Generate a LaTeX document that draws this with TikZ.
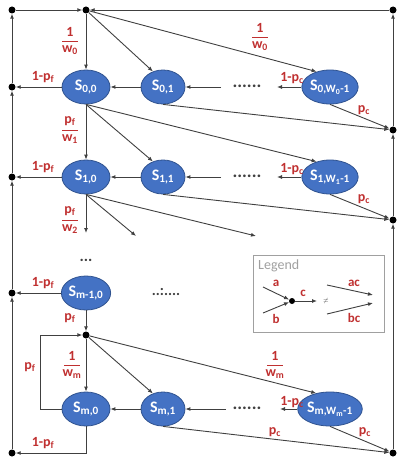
\documentclass[tikz,border=0pt]{standalone}
\usepackage{fontspec}
\setmainfont{Carlito}
\usetikzlibrary{shapes.geometric,arrows.meta}
\definecolor{nodeblue}{RGB}{68,114,196}
\definecolor{nodeedge}{RGB}{47,82,143}
\definecolor{lab}{RGB}{192,48,48}
\definecolor{wire}{RGB}{64,64,64}
\definecolor{leggray}{RGB}{160,160,160}
\newcommand{\fr}[2]{\shortstack{#1\\[1pt]\rule{16pt}{1pt}\\[1pt]#2}}
\begin{document}
\begin{tikzpicture}[x=1pt,y=-1pt,
  state/.style={ellipse,fill=nodeblue,draw=nodeedge,line width=0.8pt,minimum width=48pt,minimum height=34pt,inner sep=0pt,text=white,font=\fontsize{16}{18}\selectfont\bfseries},
  narrow/.style={state,minimum width=44pt},
  junc/.style={circle,fill=black,inner sep=0pt,minimum size=7pt},
  wire/.style={draw=wire,line width=0.9pt},
  arr/.style={wire,-{Latex[length=5pt,width=4pt]}},
  lbl/.style={text=lab,font=\fontsize{14}{16}\selectfont\bfseries,inner sep=0pt},
  dotsx/.style={text=wire,font=\fontsize{18}{18}\selectfont\bfseries,inner sep=0pt},
]
\useasboundingbox (0,0) rectangle (398,460);
% junctions
\node[junc] (tl) at (12,10) {};
\node[junc] (t0) at (86,10) {};
\node[junc] (tr) at (393,10) {};
\node[junc] (l0) at (12,87) {};
\node[junc] (l1) at (12,177) {};
\node[junc] (l2) at (12,293) {};
\node[junc] (lb) at (12,453) {};
\node[junc] (r0) at (393,130) {};
\node[junc] (r1) at (393,220) {};
\node[junc] (rb) at (393,453) {};
\node[junc] (tm) at (86,335) {};
% states
\node[state] (s00) at (86,87) {S\textsubscript{0,0}};
\node[narrow] (s01) at (163,87) {S\textsubscript{0,1}};
\node[state] (s0w) at (330,87) {S\textsubscript{0,W\textsubscript{0}-1}};
\node[state] (s10) at (86,177) {S\textsubscript{1,0}};
\node[narrow] (s11) at (163,177) {S\textsubscript{1,1}};
\node[state] (s1w) at (330,177) {S\textsubscript{1,W\textsubscript{1}-1}};
\node[state] (s20) at (86,293) {S\textsubscript{m-1,0}};
\node[state] (sm0) at (86,409) {S\textsubscript{m,0}};
\node[narrow] (sm1) at (163,409) {S\textsubscript{m,1}};
\node[state] (smw) at (330,409) {S\textsubscript{m,W\textsubscript{m}-1}};
% free ends
\coordinate (d0) at (221,87); \coordinate (e0) at (277,87);
\coordinate (d1) at (221,177); \coordinate (e1) at (277,177);
\coordinate (dm) at (226,409); \coordinate (em) at (280,409);
\coordinate (u1) at (86,233); \coordinate (u2) at (136,236); \coordinate (u3) at (256,236);
\coordinate (lp1) at (40,409); \coordinate (lp2) at (40,335);
\coordinate (bc) at (86,453);
% dots
\node[dotsx] (dt0) at (247,86) {......};
\node[dotsx] (dt1) at (247,176) {......};
\node[dotsx,font=\fontsize{15}{15}\selectfont\bfseries] (dt2) at (166,292) {..:....};
\node[dotsx,font=\fontsize{16}{16}\selectfont\bfseries] (dtv) at (86,260) {...};
\node[dotsx] (dtm) at (247,408) {......};
% outer loops
\draw[arr] (l0) -- (tl);
\draw[arr] (tl) -- (t0);
\draw[arr] (l1) -- (l0);
\draw[arr] (l2) -- (l1);
\draw[arr] (lb) -- (l2);
\draw[arr] (tr) -- (t0);
\draw[arr] (r0) -- (tr);
\draw[arr] (r1) -- (r0);
\draw[arr] (rb) -- (r1);
% row 0
\draw[arr] (t0) -- (s00);
\draw[arr] (t0) -- (s01.123);
\draw[arr] (t0) -- (s0w.131);
\draw[arr] (s00) -- (l0);
\draw[arr] (s01) -- (s00);
\draw[arr] (d0) -- (s01);
\draw[arr] (s0w) -- (e0);
\draw[arr] (s01.south) -- (r0);
\draw[arr] (s0w.south) -- (r0);
\draw[arr] (s00.south) -- (s10);
\draw[arr] (s00.south) -- (s11.123);
\draw[arr] (s00.south) -- (s1w.131);
% row 1
\draw[arr] (s10) -- (l1);
\draw[arr] (s11) -- (s10);
\draw[arr] (d1) -- (s11);
\draw[arr] (s1w) -- (e1);
\draw[arr] (s11.south) -- (r1);
\draw[arr] (s1w.south) -- (r1);
\draw[arr] (s10.south) -- (u1);
\draw[arr] (s10.south) -- (u2);
\draw[arr] (s10.south) -- (u3);
% row m-1
\draw[arr] (s20) -- (l2);
\draw[arr] (s20) -- (tm);
% row m
\draw[arr] (tm) -- (sm0);
\draw[arr] (tm) -- (sm1.123);
\draw[arr] (tm) -- (smw.131);
\draw[arr] (sm0.west) -- (lp1) -- (lp2) -- (tm);
\draw[arr] (sm0) -- (bc) -- (lb);
\draw[arr] (sm1) -- (sm0);
\draw[arr] (dm) -- (sm1);
\draw[arr] (smw) -- (em);
\draw[arr] (sm1.south) -- (rb);
\draw[arr] (smw.south) -- (rb);
% labels
\node[lbl] (f0a) at (70,41) {\fr{1}{w\textsubscript{0}}};
\node[lbl] (f0b) at (260,37) {\fr{1}{w\textsubscript{0}}};
\node[lbl] (q0) at (43,77) {1-p\textsubscript{f}};
\node[lbl] (f1) at (70,130) {\fr{p\textsubscript{f}}{w\textsubscript{1}}};
\node[lbl] (c0) at (292,78) {1-p\textsubscript{c}};
\node[lbl] (p0) at (364,110) {p\textsubscript{c}};
\node[lbl] (q1) at (43,167) {1-p\textsubscript{f}};
\node[lbl] (f2) at (70,220) {\fr{p\textsubscript{f}}{w\textsubscript{2}}};
\node[lbl] (c1) at (292,169) {1-p\textsubscript{c}};
\node[lbl] (p1) at (364,199) {p\textsubscript{c}};
\node[lbl] (q2) at (43,283) {1-p\textsubscript{f}};
\node[lbl] (pf2) at (70,318) {p\textsubscript{f}};
\node[lbl] (pfl) at (30,367) {p\textsubscript{f}};
\node[lbl] (fma) at (72,365) {\fr{1}{w\textsubscript{m}}};
\node[lbl] (fmb) at (275,365) {\fr{1}{w\textsubscript{m}}};
\node[lbl] (cm) at (292,402) {1-p\textsubscript{c}};
\node[lbl] (pm1) at (275,432) {p\textsubscript{c}};
\node[lbl] (pm2) at (365,432) {p\textsubscript{c}};
\node[lbl] (qb) at (43,443) {1-p\textsubscript{f}};
% legend
\node[draw=leggray,fill=white,line width=0.8pt,minimum width=131pt,minimum height=77pt,inner sep=0pt] (leg) at (318.5,293.5) {};
\node[text=leggray,font=\fontsize{14}{16}\selectfont,anchor=west,inner sep=0pt] (legt) at (258,266) {Legend};
\node[junc,minimum size=6pt] (lgd) at (292,301) {};
\coordinate (lga) at (263,287); \coordinate (lgb) at (263,313); \coordinate (lgc) at (317,301);
\coordinate (lac1) at (327,285); \coordinate (lac2) at (373,295);
\coordinate (lbc1) at (327,314); \coordinate (lbc2) at (373,303);
\draw[arr] (lga) -- (lgd);
\draw[arr] (lgb) -- (lgd);
\draw[arr] (lgd) -- (lgc);
\draw[arr] (lac1) -- (lac2);
\draw[arr] (lbc1) -- (lbc2);
\node[lbl,font=\fontsize{13}{15}\selectfont\bfseries] (la) at (276,283) {a};
\node[lbl,font=\fontsize{13}{15}\selectfont\bfseries] (lbb) at (276,319) {b};
\node[lbl,font=\fontsize{13}{15}\selectfont\bfseries] (lc) at (303,293) {c};
\node[lbl,font=\fontsize{13}{15}\selectfont\bfseries] (lac) at (354,283) {ac};
\node[lbl,font=\fontsize{13}{15}\selectfont\bfseries] (lbc) at (354,318) {bc};
\node[text=wire,font=\fontsize{6}{6}\selectfont,inner sep=0pt] (leq) at (326,301) {$\neq$};
\end{tikzpicture}
\end{document}
